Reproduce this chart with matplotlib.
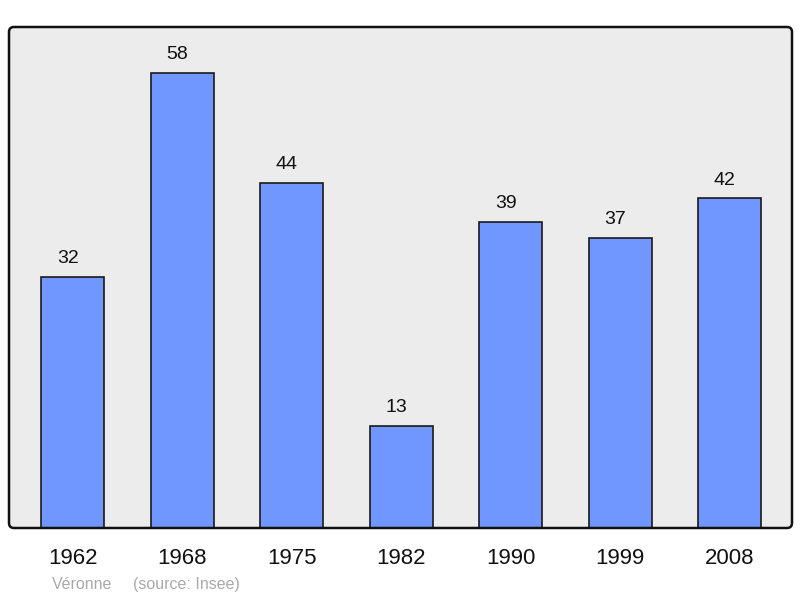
import matplotlib
matplotlib.use("Agg")
import matplotlib.pyplot as plt
from matplotlib.patches import FancyBboxPatch

years = ["1962", "1968", "1975", "1982", "1990", "1999", "2008"]
values = [32, 58, 44, 13, 39, 37, 42]

plt.rcParams['font.family'] = ['Liberation Sans', 'DejaVu Sans']

fig = plt.figure(figsize=(8, 5.98), dpi=100)
ax = fig.add_axes([9/800, 70/598, 783/800, 501/598])
ax.set_facecolor('#ececec')

x = list(range(len(years)))
bars = ax.bar(x, values, width=0.575, color='#7096ff', edgecolor='#1a1a1a',
              linewidth=1.2, zorder=2)
for xi, v in zip(x, values):
    ax.annotate(str(v), (xi, v), xytext=(-3.6, 10), textcoords='offset points',
                ha='center', va='baseline', fontsize=14, color='#111111')

ax.set_xlim(-0.584, 6.571)
ax.set_ylim(0, 63.86)
ax.set_xticks(x)
ax.set_xticklabels(years, fontsize=16, color='#111111')
ax.tick_params(axis='x', length=0, pad=14.5)
ax.set_yticks([])
for s in ax.spines.values():
    s.set_visible(False)

frame = FancyBboxPatch((0.09, 0.70), 7.83, 5.01,
                       boxstyle="round,pad=0,rounding_size=0.05",
                       transform=fig.dpi_scale_trans, facecolor='none',
                       edgecolor='#111111', linewidth=1.8, zorder=5)
fig.patches.append(frame)

fig.text(52/800, 1 - 589/598, "Véronne", fontsize=11.5, color='#aaaaaa',
         ha='left', va='baseline')
fig.text(133/800, 1 - 589/598, "(source: Insee)", fontsize=11.5, color='#aaaaaa',
         ha='left', va='baseline')

fig.savefig("out.png", dpi=100)
